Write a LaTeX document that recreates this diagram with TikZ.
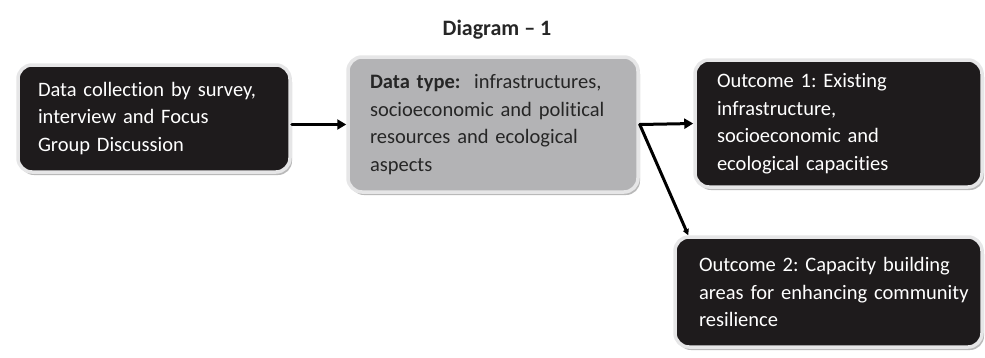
\documentclass[tikz,border=0pt]{standalone}
\usepackage{fontspec}
\setmainfont{Carlito}[Ligatures=NoCommon]
\usetikzlibrary{arrows.meta,shadows,calc}

\definecolor{boxblack}{HTML}{1E1B1C}
\definecolor{boxgray}{HTML}{B3B3B5}
\definecolor{rimgray}{HTML}{E6E6E7}

\tikzset{
  stagebox/.style={rectangle,rounded corners=14pt,draw=rimgray,line width=3.5pt,
    drop shadow={shadow xshift=2pt,shadow yshift=-3pt,fill=black!55},
    align=left,font=\fontsize{20.5}{27.5}\selectfont,inner ysep=0pt},
  darkbox/.style={stagebox,fill=boxblack,text=white},
  lightbox/.style={stagebox,fill=boxgray,text=black!85},
}

\begin{document}
\frenchspacing
\begin{tikzpicture}[line cap=round,line join=round,x=1pt,y=-1pt,
  >={Triangle[length=9pt,width=10pt]}]

\useasboundingbox (0,0) rectangle (985,357);

\node[font=\fontsize{22}{26}\selectfont\bfseries,text=black!85] (title) at (497,30) {Diagram -- 1};

\node[darkbox,minimum width=272pt,minimum height=107pt,text width=232pt,inner xsep=20pt]
  (collect) at (154,118.5) {Data collection by survey,\\interview and Focus\\Group Discussion};
\node[lightbox,minimum width=290pt,minimum height=135pt,text width=246pt,inner xsep=22pt]
  (datatype) at (493,124.5) {\textbf{Data type:}\ \ infrastructures,\\socioeconomic and political\\resources and ecological\\aspects};
\node[darkbox,minimum width=287pt,minimum height=127pt,text width=243pt,inner xsep=22pt]
  (outone) at (838.5,123.5) {Outcome 1: Existing\\infrastructure,\\socioeconomic and\\ecological capacities};
\node[darkbox,minimum width=307pt,minimum height=110pt,text width=259pt,inner xsep=24pt]
  (outtwo) at (828.5,292) {\mbox{Outcome 2: Capacity building}\\\mbox{areas for enhancing community}\\resilience};

% connectors
\draw[->,line width=3pt] (collect.east |- datatype.west) -- (datatype.west);
\draw[->,line width=3pt] (datatype.east) -- (outone.west);
\draw[-{Triangle[length=6pt,width=6pt]},line width=3pt] (datatype.east) -- ($(outtwo.north west)+(15,0)$);

\end{tikzpicture}
\end{document}
